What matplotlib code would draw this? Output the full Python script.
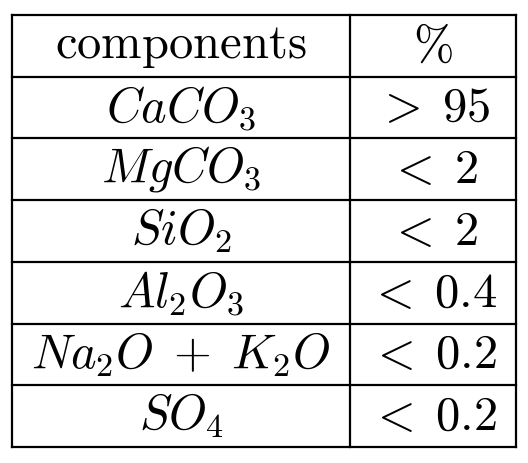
import matplotlib
matplotlib.use("Agg")
import matplotlib.pyplot as plt

plt.rcParams['mathtext.fontset'] = 'cm'

header = [r'$\mathrm{components}$', r'$\%$']
components = [r'$CaCO_3$', r'$MgCO_3$', r'$SiO_2$', r'$Al_2O_3$', r'$Na_2O\;+\;K_2O$', r'$SO_4$']
percents = [r'$>\;95$', r'$<\;2$', r'$<\;2$', r'$<\;0.4$', r'$<\;0.2$', r'$<\;0.2$']

W, H = 528, 463
fig = plt.figure(figsize=(W/100, H/100), dpi=100)
ax = fig.add_axes([0, 0, 1, 1])
ax.set_xlim(0, W); ax.set_ylim(H, 0); ax.axis('off')

left, mid, right, top, bottom = 12, 350, 516, 15, 447
n = len(components) + 1
rh = (bottom - top) / n
lw = 1.6
for i in range(n + 1):
    y = top + i * rh
    ax.plot([left, right], [y, y], color='black', lw=lw, solid_capstyle='projecting')
for x in (left, mid, right):
    ax.plot([x, x], [top, bottom], color='black', lw=lw, solid_capstyle='projecting')

rows = [header] + list(zip(components, percents))
for i, (a, b) in enumerate(rows):
    yc = top + (i + 0.5) * rh
    ax.text((left + mid) / 2, yc, a, ha='center', va='center', fontsize=35)
    ax.text((mid + right) / 2, yc, b, ha='center', va='center', fontsize=35)

fig.savefig('out.png', dpi=100, facecolor='white')
